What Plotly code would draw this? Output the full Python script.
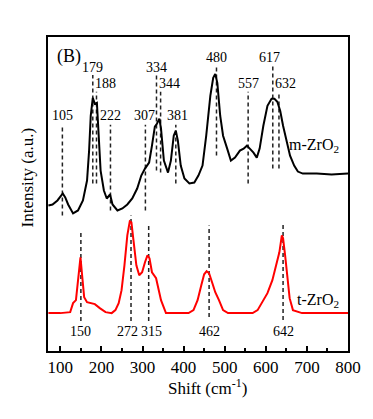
import plotly.graph_objects as go

# ---------------- data ----------------
# m-ZrO2 Raman spectrum (black)
m_shift = [71, 81, 93, 100, 106, 112, 119, 131, 143, 155, 165, 170, 174, 179, 184, 189, 194, 198,
           206, 213, 221, 227, 239, 251, 263, 275, 287, 297, 306, 316, 323, 330, 335, 341, 345,
           352, 362, 369, 376, 381, 386, 393, 402, 414, 426, 436, 446, 455, 465, 472, 477, 482,
           489, 496, 506, 515, 525, 537, 546, 554, 561, 570, 578, 585, 594, 604, 614, 621, 628,
           635, 642, 650, 659, 669, 678, 690, 724, 760, 796, 800]
m_int = [146, 147, 151, 155, 158, 154, 147, 138, 141, 151, 171, 201, 236, 254, 248, 249, 216, 181,
         161, 153, 157, 147, 141, 143, 147, 153, 163, 176, 183, 189, 206, 225, 228, 233, 223,
         191, 179, 191, 216, 221, 211, 186, 173, 168, 169, 176, 186, 216, 256, 274, 278, 269,
         236, 216, 203, 191, 194, 201, 203, 206, 203, 199, 194, 203, 226, 246, 253, 253, 250,
         241, 226, 211, 196, 186, 180, 178, 178, 177, 178, 178]

# t-ZrO2 Raman spectrum (red)
t_shift = [71, 100, 124, 131, 138, 143, 147, 149, 153, 158, 165, 174, 184, 196, 210, 225, 234,
           242, 249, 256, 263, 269, 273, 278, 285, 292, 299, 306, 312, 317, 323, 333, 345, 357,
           376, 412, 424, 434, 443, 450, 456, 462, 470, 477, 486, 496, 508, 568, 580, 592, 604,
           616, 626, 633, 639, 642, 647, 652, 658, 666, 688, 800]
t_int = [38, 38, 39, 48, 51, 71, 93, 94, 76, 54, 49, 48, 47, 43, 39, 38, 41,
         48, 61, 86, 116, 130, 129, 111, 86, 76, 79, 89, 96, 93, 79, 73, 51, 38,
         38, 38, 41, 51, 66, 77, 80, 78, 68, 59, 51, 41, 38, 38, 41, 49, 58,
         71, 86, 99, 116, 113, 96, 76, 53, 41, 38, 38]

# m-ZrO2 band markers: position, label height, line top, line bottom
m_bands = [105, 179, 188, 222, 307, 334, 344, 381, 480, 557, 617, 632]
m_label_y = [236, 284, 268, 236, 236, 284, 268, 236, 294, 268, 294, 268]
m_line_top = [227, 277, 260, 227, 227, 277, 260, 227, 287, 260, 287, 260]
m_line_bot = [136, 168, 168, 141, 141, 181, 179, 168, 196, 168, 183, 183]
m_label_shift = [0, 0, 9, 0, -1, 0, 9, 2, 0, 0, -3, 7]

# t-ZrO2 band markers
t_bands = [150, 272, 315, 462, 642]
t_line_top = [119, 136, 128, 126, 129]
t_line_bot = [30, 30, 30, 34, 31]
t_label_y = 20
t_label_shift = [0, -4, 3, 0, 0]

x_range = [70, 800]
y_range = [0, 315]

FONT = "Liberation Serif, Times New Roman, Times, serif"

fig = go.Figure()

# dashed band markers
for b, top, bot in zip(m_bands, m_line_top, m_line_bot):
    fig.add_trace(go.Scatter(x=[b, b], y=[bot, top], mode="lines",
                             line=dict(color="#222222", width=1.5, dash="4px,3px"),
                             showlegend=False, hoverinfo="skip"))
for b, top, bot in zip(t_bands, t_line_top, t_line_bot):
    fig.add_trace(go.Scatter(x=[b, b], y=[bot, top], mode="lines",
                             line=dict(color="#222222", width=1.5, dash="4px,3px"),
                             showlegend=False, hoverinfo="skip"))

# spectra
fig.add_trace(go.Scatter(x=m_shift, y=m_int, mode="lines",
                         line=dict(color="black", width=2), showlegend=False))
fig.add_trace(go.Scatter(x=t_shift, y=t_int, mode="lines",
                         line=dict(color="red", width=2), showlegend=False))

# labels
for b, ly, sh in zip(m_bands, m_label_y, m_label_shift):
    fig.add_annotation(x=b, y=ly, text=str(b), showarrow=False, xshift=sh,
                       font=dict(family=FONT, size=14, color="black"))
for b, sh in zip(t_bands, t_label_shift):
    fig.add_annotation(x=b, y=t_label_y, text=str(b), showarrow=False, xshift=sh,
                       font=dict(family=FONT, size=14, color="black"))

fig.add_annotation(x=652, y=206, text="m-ZrO<sub>2</sub>", showarrow=False, xanchor="left",
                   font=dict(family=FONT, size=16, color="black"))
fig.add_annotation(x=671, y=51, text="t-ZrO<sub>2</sub>", showarrow=False, xanchor="left",
                   font=dict(family=FONT, size=16, color="black"))
fig.add_annotation(x=88, y=295, text="(B)", showarrow=False, xanchor="left",
                   font=dict(family=FONT, size=18, color="black"))

# axis titles
fig.add_annotation(xref="paper", yref="paper", x=-0.03, y=0.551, text="Intensity (a.u.)",
                   textangle=-90, showarrow=False, xanchor="right", yanchor="middle",
                   font=dict(family=FONT, size=17, color="black"))
fig.add_annotation(xref="paper", yref="paper", x=0.53, y=-0.072, text="Shift (cm<sup>-1</sup>)",
                   showarrow=False, xanchor="center", yanchor="top",
                   font=dict(family=FONT, size=17, color="black"))

# page body has an 8px margin: the figure is sized so the plot box lands where the reference has it
fig.update_layout(
    width=365, height=411,
    margin=dict(l=40, r=23, t=29, b=68),
    paper_bgcolor="white", plot_bgcolor="white",
    font=dict(family=FONT, color="black"),
    xaxis=dict(range=x_range, showgrid=False, zeroline=False,
               showline=True, linecolor="black", linewidth=2, mirror=True,
               ticks="inside", ticklen=5, tickwidth=1.5, tickcolor="black",
               dtick=100, tick0=0,
               minor=dict(ticks="inside", ticklen=3, tickwidth=1.5, dtick=50, tick0=0,
                          tickcolor="black"),
               tickfont=dict(family=FONT, size=17, color="black")),
    yaxis=dict(range=y_range, showgrid=False, zeroline=False,
               showline=True, linecolor="black", linewidth=2, mirror=True,
               ticks="", showticklabels=False),
)

fig.write_html("out.html")
